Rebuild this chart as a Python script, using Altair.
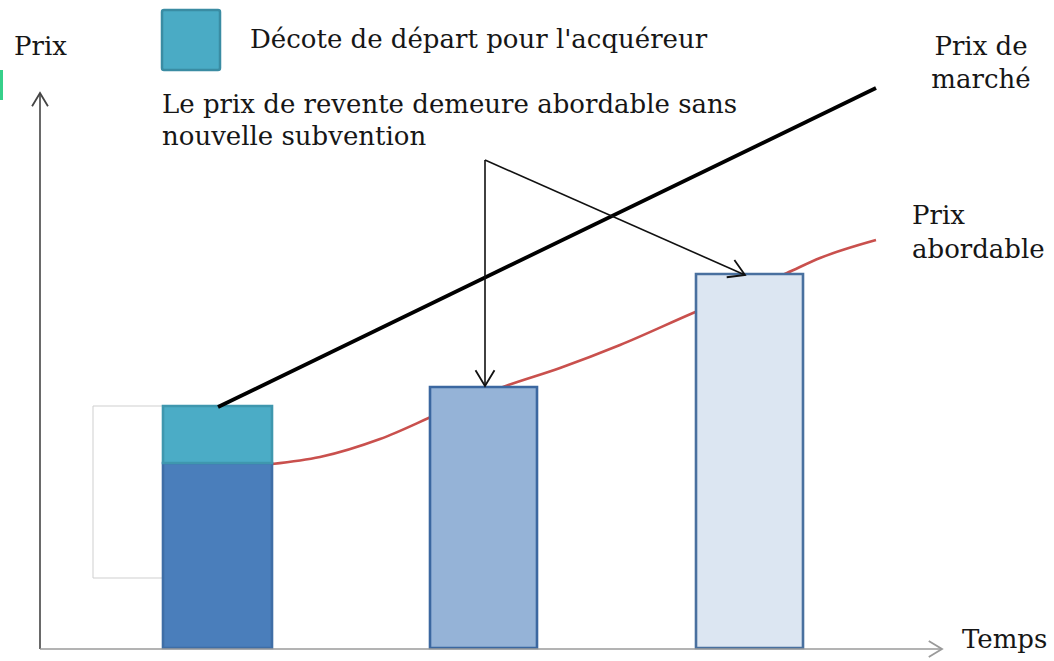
import altair as alt
import pandas as pd

# Time runs along x (1 unit = one period), price along y (arbitrary units).
T_DOMAIN = [-0.4, 10.14]
P_DOMAIN = [-2.6, 129.6]

# Bars: start, end, bottom, top
bar_t0 = [1.23, 1.23, 3.90, 6.56]
bar_t1 = [2.32, 2.32, 4.97, 7.63]
bar_p0 = [0.0, 37.0, 0.0, 0.0]
bar_p1 = [37.0, 48.4, 52.2, 74.8]
bar_fill = ["#4a7ebb", "#4bacc6", "#95b3d7", "#dce6f2"]
bar_stroke = ["#3f6ea6", "#3f97ae", "#3b67a0", "#49709f"]

# Market price (straight rise)
market_t = [1.78, 8.36]
market_p = [48.2, 112.0]

# Affordable price curve
afford_t = [2.32, 2.80, 3.40, 4.00, 4.63, 5.20, 5.80, 6.53, 7.10, 7.47, 7.80, 8.36]
afford_p = [36.8, 38.2, 41.8, 47.0, 52.2, 56.0, 60.6, 67.0, 71.8, 75.0, 78.0, 81.6]

# Callout arrows from the caption to the resale bars
arrow_t0 = [4.45, 4.45]
arrow_p0 = [97.6, 97.6]
arrow_t1 = [4.45, 7.05]
arrow_p1 = [52.4, 74.6]
arrow_angle = [0, 293.9]

# Axes with arrowheads
axis_t0 = [0.0, 0.0]
axis_p0 = [-0.2, -0.2]
axis_t1 = [0.0, 9.02]
axis_p1 = [111.0, -0.2]
axis_color = ["#444444", "#9a9a9a"]
axis_head_angle = [180, 270]

# Legend swatch
legend_t = [1.22, 1.80]
legend_p = [115.6, 127.6]

# Text labels
label_text = [
    "Prix",
    "Décote de départ pour l'acquéreur",
    "Le prix  de revente demeure abordable sans",
    "nouvelle subvention",
    "Prix",
    "abordable",
    "Temps",
]
label_t = [-0.26, 2.10, 1.22, 1.22, 8.72, 8.72, 9.22]
label_p = [118.6, 120.0, 107.0, 100.6, 84.8, 78.0, 0.0]

market_label = ["Prix de", "marché"]
market_label_t = [9.41, 9.41]
market_label_p = [118.6, 112.0]

FONT = "DejaVu Serif"
FS = 26

xs = alt.Scale(domain=T_DOMAIN, nice=False, zero=False)
ys = alt.Scale(domain=P_DOMAIN, nice=False, zero=False)


def X(f):
    return alt.X(f, type="quantitative", scale=xs, axis=None)


def Y(f):
    return alt.Y(f, type="quantitative", scale=ys, axis=None)


bars = pd.DataFrame(dict(t0=bar_t0, t1=bar_t1, p0=bar_p0, p1=bar_p1,
                         fill=bar_fill, stroke=bar_stroke))
market = pd.DataFrame(dict(t=market_t, p=market_p))
afford = pd.DataFrame(dict(t=afford_t, p=afford_p))
arrows = pd.DataFrame(dict(t0=arrow_t0, p0=arrow_p0, t1=arrow_t1, p1=arrow_p1,
                           angle=arrow_angle))
axes = pd.DataFrame(dict(t0=axis_t0, p0=axis_p0, t1=axis_t1, p1=axis_p1,
                         color=axis_color, angle=axis_head_angle))
labels = pd.DataFrame(dict(text=label_text, t=label_t, p=label_p))
mlabels = pd.DataFrame(dict(text=market_label, t=market_label_t, p=market_label_p))
legend = pd.DataFrame(dict(t0=[legend_t[0]], t1=[legend_t[1]],
                           p0=[legend_p[0]], p1=[legend_p[1]]))

# faint frame left of the first bar and a small marker on the left edge
frame = pd.DataFrame(dict(t0=[0.53], t1=[1.23], p0=[14.0], p1=[48.4]))
edge = pd.DataFrame(dict(t0=[-0.40], t1=[-0.37], p0=[109.6], p1=[115.6]))

CHEVRON = "M -0.6 -1 L 0 0 L 0.6 -1"

frame_layer = alt.Chart(frame).mark_rect(
    fill="white", stroke="#cfcfcf", strokeWidth=1
).encode(x=X("t0"), x2="t1", y=Y("p0"), y2="p1")

edge_layer = alt.Chart(edge).mark_rect(fill="#36d08a").encode(
    x=X("t0"), x2="t1", y=Y("p0"), y2="p1")

afford_layer = alt.Chart(afford).mark_line(
    color="#c9504d", strokeWidth=2.6, interpolate="monotone"
).encode(x=X("t"), y=Y("p"))

bar_layer = alt.Chart(bars).mark_rect(strokeWidth=2.6).encode(
    x=X("t0"), x2="t1", y=Y("p0"), y2="p1",
    fill=alt.Fill("fill:N", scale=None),
    stroke=alt.Stroke("stroke:N", scale=None),
)

market_layer = alt.Chart(market).mark_line(
    color="black", strokeWidth=3.8
).encode(x=X("t"), y=Y("p"))

arrow_lines = alt.Chart(arrows).mark_rule(color="#111111", strokeWidth=1.6).encode(
    x=X("t0"), y=Y("p0"), x2="t1", y2="p1")

arrow_heads = alt.Chart(arrows).mark_point(
    shape=CHEVRON, filled=False, size=1000, strokeWidth=1.8,
    color="#111111", opacity=1
).encode(x=X("t1"), y=Y("p1"), angle=alt.Angle("angle:Q", scale=None))

axis_lines = alt.Chart(axes).mark_rule(strokeWidth=1.6).encode(
    x=X("t0"), y=Y("p0"), x2="t1", y2="p1",
    color=alt.Color("color:N", scale=None))

axis_heads = alt.Chart(axes).mark_point(
    shape=CHEVRON, filled=False, size=700, strokeWidth=1.8, opacity=1
).encode(x=X("t1"), y=Y("p1"),
         angle=alt.Angle("angle:Q", scale=None),
         color=alt.Color("color:N", scale=None))

legend_layer = alt.Chart(legend).mark_rect(
    fill="#4aabc5", stroke="#3a8ca3", strokeWidth=2.5, cornerRadius=2
).encode(x=X("t0"), x2="t1", y=Y("p0"), y2="p1")

text_layer = alt.Chart(labels).mark_text(
    font=FONT, fontSize=FS, align="left", baseline="alphabetic", color="#161616"
).encode(x=X("t"), y=Y("p"), text="text:N")

mtext_layer = alt.Chart(mlabels).mark_text(
    font=FONT, fontSize=FS, align="center", baseline="alphabetic", color="#161616"
).encode(x=X("t"), y=Y("p"), text="text:N")

chart = alt.layer(
    frame_layer, edge_layer, afford_layer, bar_layer, market_layer,
    arrow_lines, arrow_heads, axis_lines, axis_heads, legend_layer,
    text_layer, mtext_layer,
).properties(
    width=1054, height=661, autosize=alt.AutoSizeParams(type="none"), padding=0,
    background="white",
).configure_view(stroke=None)

chart.save("out.html", embed_options={"renderer": "svg", "actions": False})
